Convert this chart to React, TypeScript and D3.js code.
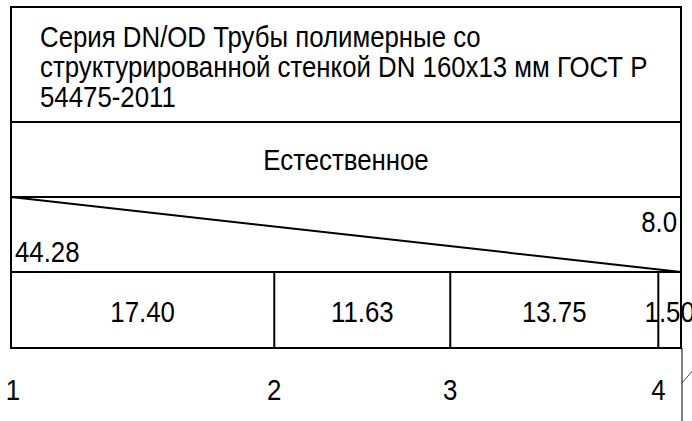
import React from "react";
import * as d3 from "d3";

const titleLines = [
  "Серия DN/OD Трубы полимерные со",
  "структурированной стенкой DN 160x13 мм ГОСТ Р",
  "54475-2011",
];
const groundLabel = "Естественное";
const segmentLengths = [17.4, 11.63, 13.75, 1.5];
const pointLabels = ["1", "2", "3", "4"];
const totalLength = 44.28;
const slopeLabel = "8.0";

const FONT = "'Liberation Sans', Arial, sans-serif";
const SX = 0.89;

function T({
  x,
  y,
  anchor = "start",
  size = 29,
  children,
}: {
  x: number;
  y: number;
  anchor?: "start" | "middle" | "end";
  size?: number;
  children: React.ReactNode;
}) {
  return (
    <text
      transform={`translate(${x},${y}) scale(${SX},1)`}
      fontSize={size}
      textAnchor={anchor}
      fill="#000"
    >
      {children}
    </text>
  );
}

export default function App() {
  const W = 692;
  const H = 421;
  const left = 11;
  const right = 681;
  const x = d3.scaleLinear().domain([0, totalLength]).range([left, right]);
  const rows = [7, 122, 197, 272, 348];
  const cum = [0, ...d3.cumsum(segmentLengths)];

  return (
    <svg
      width={W}
      height={H}
      style={{ position: "absolute", left: 0, top: 0, background: "#fff" }}
      fontFamily={FONT}
    >
      <rect x={0} y={0} width={W} height={H} fill="#fff" />
      <rect
        x={left}
        y={rows[0]}
        width={right - left}
        height={rows[4] - rows[0]}
        fill="none"
        stroke="#000"
        strokeWidth={2}
      />
      {rows.slice(1, 4).map((y, i) => (
        <line key={i} x1={left} x2={right} y1={y} y2={y} stroke="#000" strokeWidth={2} />
      ))}
      {titleLines.map((t, i) => (
        <T key={i} x={40} y={47 + i * 30}>
          {t}
        </T>
      ))}
      <T x={(left + right) / 2} y={170} anchor="middle">
        {groundLabel}
      </T>
      <line x1={x(0)} y1={rows[2]} x2={x(totalLength)} y2={rows[3]} stroke="#000" strokeWidth={2} />
      <T x={right - 4} y={232} anchor="end">
        {slopeLabel}
      </T>
      <T x={left + 4} y={262}>
        {totalLength.toFixed(2)}
      </T>
      {cum.slice(1, -1).map((c, i) => (
        <line key={i} x1={x(c)} x2={x(c)} y1={rows[3]} y2={rows[4]} stroke="#000" strokeWidth={2} />
      ))}
      {segmentLengths.map((s, i) => (
        <T key={i} x={(x(cum[i]) + x(cum[i + 1])) / 2} y={322} anchor="middle">
          {s.toFixed(2)}
        </T>
      ))}
      {pointLabels.map((p, i) => (
        <T key={i} x={x(cum[i]) + (i === 0 ? 2 : 0)} y={400} anchor="middle">
          {p}
        </T>
      ))}
      <line x1={682} x2={682} y1={rows[4]} y2={H} stroke="#000" strokeWidth={1} />
      <line x1={682} y1={383} x2={694} y2={369} stroke="#000" strokeWidth={0.7} />
    </svg>
  );
}
